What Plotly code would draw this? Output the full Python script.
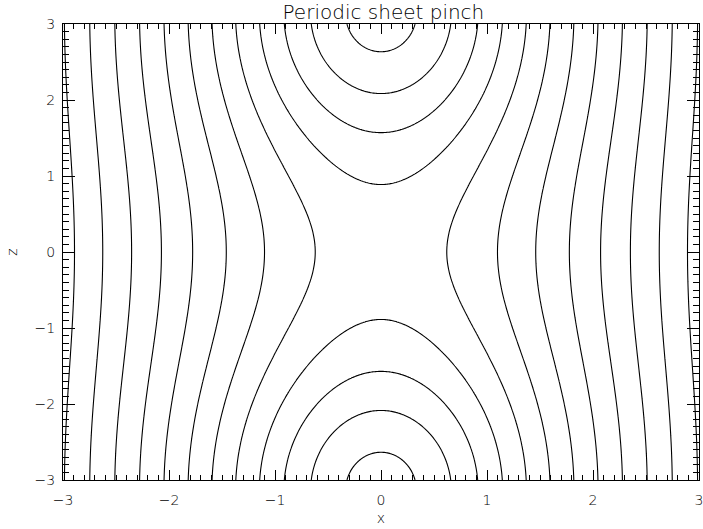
import numpy as np
import plotly.graph_objects as go

# Periodic sheet pinch (Kelvin-Stuart type current sheet):
#   A(x, z) = ln(cosh x + eps * cos z)
eps = 0.45
levels = [-0.5, -0.25, 0.0, 0.25, 0.5, 0.75, 1.0, 1.25, 1.5, 1.75, 2.0, 2.25]
x_range = [-3.0, 3.0]
z_range = [-3.0, 3.0]
x_ticks = [-3, -2, -1, 0, 1, 2, 3]
z_ticks = [-3, -2, -1, 0, 1, 2, 3]

x = np.linspace(x_range[0], x_range[1], 601)
z = np.linspace(z_range[0], z_range[1], 601)
X, Z = np.meshgrid(x, z)
A = np.log(np.cosh(X) + eps * np.cos(Z))

font_family = "DejaVu Sans"
ink = "#000000"
thin = 200

fig = go.Figure(
    go.Contour(
        x=x,
        y=z,
        z=A,
        autocontour=False,
        contours=dict(
            start=levels[0],
            end=levels[-1],
            size=levels[1] - levels[0],
            coloring="lines",
        ),
        colorscale=[[0, ink], [1, ink]],
        line=dict(width=1.1, smoothing=0),
        showscale=False,
        hoverinfo="skip",
    )
)

axis_common = dict(
    showgrid=False,
    zeroline=False,
    showline=True,
    linecolor=ink,
    linewidth=1,
    mirror="allticks",
    ticks="inside",
    tickwidth=1,
    tickcolor=ink,
    ticklabeloverflow="allow",
    tickfont=dict(family=font_family, size=14, color=ink, weight=thin),
)

fig.update_layout(
    width=703,
    height=529,
    margin=dict(l=63, r=0, t=24, b=49),
    paper_bgcolor="white",
    plot_bgcolor="white",
    showlegend=False,
    title=dict(
        text="Periodic sheet pinch",
        x=0.5454,
        xanchor="center",
        y=0.978,
        yanchor="middle",
        font=dict(family=font_family, size=20, color=ink, weight=thin),
    ),
    xaxis=dict(
        range=x_range,
        tickvals=x_ticks,
        ticklen=10,
        ticklabelstandoff=7,
        minor=dict(ticks="inside", ticklen=5, dtick=0.1, tickcolor=ink, tickwidth=1),
        title=dict(text="x", standoff=6, font=dict(family=font_family, size=14, color=ink, weight=thin)),
        **axis_common,
    ),
    yaxis=dict(
        range=z_range,
        tickvals=z_ticks,
        ticklen=12,
        ticklabelstandoff=4,
        minor=dict(ticks="inside", ticklen=6, dtick=0.1, tickcolor=ink, tickwidth=1),
        title=dict(text="z", standoff=13, font=dict(family=font_family, size=14, color=ink, weight=thin)),
        **axis_common,
    ),
)

fig.write_html("out.html")
